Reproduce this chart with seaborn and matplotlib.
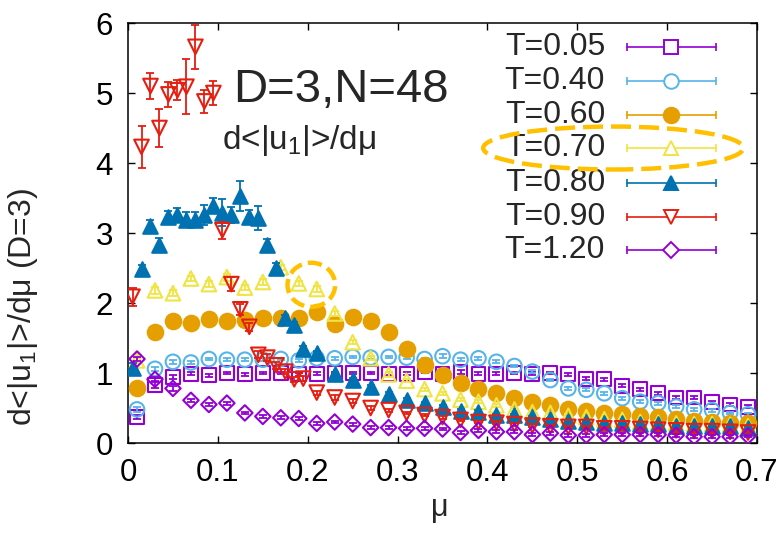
import matplotlib
matplotlib.use("Agg")
import matplotlib.pyplot as plt
from matplotlib.patches import Ellipse
import seaborn as sns

# ---- data: d<|u1|>/dmu versus mu for several temperatures ----
# common mu grid (0.01 ... 0.69 in steps of 0.02)
mu_a = [0.01, 0.03, 0.05, 0.07, 0.09, 0.11, 0.13, 0.15, 0.17, 0.19,
        0.21, 0.23, 0.25, 0.27, 0.29, 0.31, 0.33, 0.35, 0.37, 0.39,
        0.41, 0.43, 0.45, 0.47, 0.49, 0.51, 0.53, 0.55, 0.57, 0.59,
        0.61, 0.63, 0.65, 0.67, 0.69]
# finer grid near mu = 0 used for T = 0.80 and T = 0.90
mu_b = [0.005, 0.015, 0.025, 0.035, 0.045, 0.055, 0.065, 0.075, 0.085, 0.095,
        0.105, 0.115, 0.125, 0.135, 0.145, 0.155, 0.165, 0.175, 0.185, 0.195,
        0.21, 0.23, 0.25, 0.27, 0.29, 0.31, 0.33, 0.35, 0.37, 0.39,
        0.41, 0.43, 0.45, 0.47, 0.49, 0.51, 0.53, 0.55, 0.57, 0.59,
        0.61, 0.63, 0.65, 0.67, 0.69]

t005 = [0.37, 0.83, 0.94, 0.99, 0.97, 1.00, 0.98, 1.00, 1.00, 0.98,
        0.99, 1.00, 1.00, 1.00, 0.99, 0.99, 1.02, 0.99, 1.02, 0.99,
        0.99, 1.00, 0.99, 1.00, 0.98, 0.92, 0.91, 0.82, 0.77, 0.71,
        0.65, 0.65, 0.58, 0.55, 0.52]
e005 = [0.03, 0.04, 0.03, 0.02, 0.02, 0.02, 0.02, 0.02, 0.02, 0.02,
        0.02, 0.02, 0.02, 0.02, 0.02, 0.02, 0.02, 0.03, 0.03, 0.02,
        0.02, 0.02, 0.02, 0.02, 0.02, 0.02, 0.02, 0.02, 0.02, 0.02,
        0.02, 0.02, 0.02, 0.02, 0.02]

t040 = [0.48, 1.06, 1.16, 1.15, 1.20, 1.19, 1.19, 1.19, 1.20, 1.18,
        1.21, 1.21, 1.23, 1.22, 1.23, 1.22, 1.20, 1.24, 1.19, 1.21,
        1.16, 1.10, 1.02, 0.90, 0.78, 0.76, 0.71, 0.64, 0.59, 0.57,
        0.52, 0.48, 0.47, 0.43, 0.41]
e040 = [0.03, 0.03, 0.03, 0.02, 0.02, 0.02, 0.02, 0.02, 0.02, 0.02,
        0.02, 0.02, 0.02, 0.02, 0.02, 0.02, 0.02, 0.03, 0.02, 0.02,
        0.02, 0.02, 0.02, 0.02, 0.02, 0.02, 0.02, 0.02, 0.02, 0.02,
        0.02, 0.02, 0.02, 0.02, 0.02]

t060 = [0.79, 1.58, 1.74, 1.71, 1.77, 1.74, 1.76, 1.79, 1.78, 1.78,
        1.87, 1.70, 1.80, 1.74, 1.59, 1.34, 1.12, 0.97, 0.86, 0.77,
        0.71, 0.64, 0.58, 0.54, 0.49, 0.46, 0.43, 0.41, 0.38, 0.37,
        0.34, 0.32, 0.30, 0.29, 0.28]
e060 = [0.02, 0.02, 0.02, 0.02, 0.02, 0.02, 0.02, 0.02, 0.02, 0.02,
        0.02, 0.02, 0.02, 0.02, 0.02, 0.02, 0.02, 0.02, 0.02, 0.02,
        0.02, 0.02, 0.02, 0.02, 0.02, 0.02, 0.02, 0.02, 0.02, 0.02,
        0.02, 0.02, 0.02, 0.02, 0.02]

t070 = [1.18, 2.18, 2.14, 2.35, 2.27, 2.37, 2.22, 2.30, 2.51, 2.28,
        2.20, 1.85, 1.44, 1.21, 0.98, 0.89, 0.77, 0.71, 0.62, 0.59,
        0.54, 0.48, 0.44, 0.43, 0.39, 0.37, 0.34, 0.33, 0.30, 0.29,
        0.28, 0.27, 0.27, 0.26, 0.24]
e070 = [0.03, 0.05, 0.04, 0.04, 0.04, 0.05, 0.04, 0.04, 0.04, 0.04,
        0.04, 0.03, 0.03, 0.03, 0.03, 0.02, 0.02, 0.02, 0.02, 0.02,
        0.02, 0.02, 0.02, 0.02, 0.02, 0.02, 0.02, 0.02, 0.02, 0.02,
        0.02, 0.02, 0.02, 0.02, 0.02]

t080 = [1.07, 2.48, 3.10, 2.83, 3.23, 3.26, 3.19, 3.19, 3.26, 3.39,
        3.29, 3.26, 3.53, 3.23, 3.21, 2.83, 2.50, 1.78, 1.68, 1.35,
        1.28, 0.98, 0.90, 0.80, 0.70, 0.62, 0.57, 0.52, 0.46, 0.45,
        0.40, 0.40, 0.37, 0.34, 0.31, 0.30, 0.29, 0.28, 0.27, 0.27,
        0.24, 0.24, 0.24, 0.24, 0.22]
e080 = [0.07, 0.07, 0.08, 0.10, 0.08, 0.10, 0.11, 0.11, 0.14, 0.11,
        0.19, 0.11, 0.21, 0.10, 0.17, 0.08, 0.07, 0.05, 0.05, 0.04,
        0.04, 0.03, 0.03, 0.03, 0.03, 0.02, 0.02, 0.02, 0.02, 0.02,
        0.02, 0.02, 0.02, 0.02, 0.02, 0.02, 0.02, 0.02, 0.02, 0.02,
        0.02, 0.02, 0.02, 0.02, 0.02]

t090 = [2.09, 4.23, 5.10, 4.50, 4.98, 5.04, 5.09, 5.66, 4.88, 5.00,
        3.04, 2.27, 1.91, 1.66, 1.26, 1.22, 1.11, 1.02, 0.91, 0.92,
        0.72, 0.65, 0.60, 0.50, 0.47, 0.43, 0.40, 0.37, 0.33, 0.30,
        0.29, 0.27, 0.25, 0.24, 0.23, 0.23, 0.21, 0.21, 0.20, 0.19,
        0.18, 0.17, 0.17, 0.16, 0.15]
e090 = [0.13, 0.30, 0.19, 0.27, 0.18, 0.14, 0.39, 0.31, 0.17, 0.17,
        0.12, 0.10, 0.08, 0.06, 0.05, 0.05, 0.05, 0.04, 0.04, 0.04,
        0.03, 0.03, 0.03, 0.03, 0.02, 0.02, 0.02, 0.02, 0.02, 0.02,
        0.02, 0.02, 0.02, 0.02, 0.02, 0.02, 0.02, 0.02, 0.02, 0.02,
        0.02, 0.02, 0.02, 0.02, 0.02]

t120 = [1.20, 0.91, 0.78, 0.61, 0.55, 0.57, 0.43, 0.38, 0.36, 0.35,
        0.28, 0.30, 0.27, 0.22, 0.22, 0.21, 0.21, 0.20, 0.15, 0.18,
        0.16, 0.16, 0.12, 0.14, 0.11, 0.11, 0.12, 0.12, 0.12, 0.12,
        0.11, 0.09, 0.09, 0.09, 0.10]
e120 = [0.03, 0.03, 0.03, 0.02, 0.02, 0.02, 0.02, 0.02, 0.02, 0.02,
        0.02, 0.02, 0.02, 0.02, 0.02, 0.02, 0.02, 0.02, 0.02, 0.02,
        0.02, 0.02, 0.02, 0.02, 0.02, 0.02, 0.02, 0.02, 0.02, 0.02,
        0.02, 0.02, 0.02, 0.02, 0.02]

labels = ["T=0.05", "T=0.40", "T=0.60", "T=0.70", "T=0.80", "T=0.90", "T=1.20"]
x_ticks = [0, 0.1, 0.2, 0.3, 0.4, 0.5, 0.6, 0.7]
x_ticklabels = ["0", "0.1", "0.2", "0.3", "0.4", "0.5", "0.6", "0.7"]
y_ticks = [0, 1, 2, 3, 4, 5, 6]

# ---- style ----
sns.set_theme(style="ticks")
plt.rcParams["font.family"] = ["Liberation Sans", "DejaVu Sans"]
plt.rcParams["mathtext.fontset"] = "custom"
plt.rcParams["mathtext.rm"] = "Liberation Sans"
plt.rcParams["mathtext.default"] = "regular"

series = [
    (mu_a, t005, e005, "#9400d3", "s", False, 100),
    (mu_a, t040, e040, "#56b4e9", "o", False, 110),
    (mu_a, t060, e060, "#e69f00", "o", True, 125),
    (mu_a, t070, e070, "#f0e442", "^", False, 110),
    (mu_b, t080, e080, "#0072b2", "^", True, 110),
    (mu_b, t090, e090, "#e51e10", "v", False, 110),
    (mu_a, t120, e120, "#9400d3", "D", False, 62),
]

fig = plt.figure(figsize=(7.84, 5.48), dpi=100)
ax = fig.add_axes([0.1633, 0.1916, 0.8023, 0.7664])

for i, (mu, val, err, col, mk, filled, size) in enumerate(series):
    z = 3 + i
    ax.errorbar(mu, val, yerr=err, fmt="none", ecolor=col, elinewidth=1.3,
                capsize=3.2, capthick=1.3, zorder=z)
    sns.scatterplot(x=mu, y=val, ax=ax, marker=mk, s=size, color=col,
                    facecolor=col if filled else "none", edgecolor=col,
                    linewidth=1.5, zorder=z + 0.5, legend=False)

ax.set_xlim(0, 0.7)
ax.set_ylim(0, 6)
ax.set_xticks(x_ticks)
ax.set_xticklabels(x_ticklabels)
ax.set_yticks(y_ticks)
ax.tick_params(direction="in", length=5, width=1, top=True, right=True,
               labelsize=22.5, pad=11, colors="black")
for sp in ax.spines.values():
    sp.set_linewidth(1.1)
    sp.set_color("black")

ax.set_xlabel("μ", fontsize=22)
ax.xaxis.set_label_coords(0.496, -0.12)
ax.set_ylabel("d<|u$_1$|>/dμ (D=3)", fontsize=23)
ax.yaxis.set_label_coords(-0.14, 0.325)

# annotations inside the frame
ax.text(0.167, 0.84, "D=3,N=48", transform=ax.transAxes, fontsize=34,
        ha="left", va="center")
ax.text(0.150, 0.721, "d<|u$_1$|>/dμ", transform=ax.transAxes, fontsize=24,
        ha="left", va="center")

# key: label, horizontal error-bar sample with marker in the middle
row_y = [0.9436, 0.8626, 0.7810, 0.7031, 0.6198, 0.5388, 0.4595]
for (mu, val, err, col, mk, filled, size), lab, yk in zip(series, labels, row_y):
    ax.text(0.7583, yk, lab, transform=ax.transAxes, fontsize=23,
            ha="right", va="center")
    ax.plot([0.7933, 0.9348], [yk, yk], transform=ax.transAxes, color=col,
            lw=1.2, zorder=20)
    ax.plot([0.7933, 0.9348], [yk, yk], transform=ax.transAxes, color=col,
            lw=0, marker="|", markersize=6, markeredgewidth=1.2, zorder=20)
    ax.plot([0.8633], [yk], transform=ax.transAxes, marker=mk,
            markersize=size ** 0.5, color=col,
            markerfacecolor=col if filled else "white",
            markeredgecolor=col, markeredgewidth=1.4, lw=0, zorder=21)

# highlight rings
ax.add_patch(Ellipse((0.540, 4.214), 0.2895, 0.614, fill=False,
                     edgecolor="#ffc000", lw=3.2, linestyle=(0, (4.5, 1.8)),
                     zorder=30, clip_on=False))
ax.add_patch(Ellipse((0.204, 2.26), 0.053, 0.63, fill=False,
                     edgecolor="#ffc000", lw=3.2, linestyle=(0, (3.2, 1.4)),
                     zorder=30))

fig.savefig("out.png", dpi=100)
